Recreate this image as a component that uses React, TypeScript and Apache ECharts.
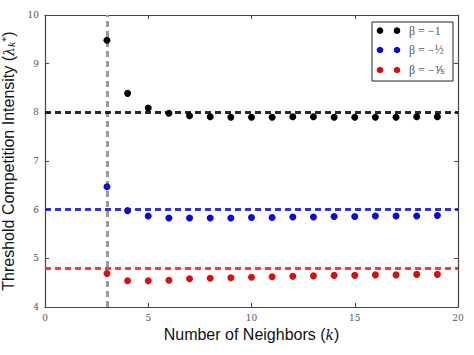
import React, { useEffect, useRef } from "react";
import * as echarts from "echarts";

const kValues = [3, 4, 5, 6, 7, 8, 9, 10, 11, 12, 13, 14, 15, 16, 17, 18, 19];
const blackValues = [9.48, 8.39, 8.09, 7.98, 7.93, 7.91, 7.9, 7.9, 7.9, 7.91, 7.91, 7.9, 7.9, 7.9, 7.9, 7.91, 7.91];
const blueValues = [6.47, 5.98, 5.87, 5.83, 5.83, 5.83, 5.83, 5.84, 5.84, 5.85, 5.85, 5.86, 5.86, 5.87, 5.87, 5.87, 5.88];
const redValues = [4.69, 4.54, 4.54, 4.55, 4.58, 4.59, 4.6, 4.61, 4.62, 4.63, 4.64, 4.65, 4.65, 4.66, 4.66, 4.67, 4.67];
const thresholds = [8, 6, 4.8];
const criticalK = 3;
const seriesNames = ["β = −1", "β = −½", "β = −⅕"];
const dotColors = ["#000000", "#0a0ad0", "#d41010"];
const lineColors = ["#111111", "#1c1ce0", "#e82a2a"];
const xTicks = [0, 5, 10, 15, 20];
const yTicks = [4, 5, 6, 7, 8, 9, 10];

export default function App() {
  const ref = useRef<HTMLDivElement>(null);
  useEffect(() => {
    if (!ref.current) return;
    const chart = echarts.init(ref.current, undefined, { renderer: "svg" });
    const valueSets = [blackValues, blueValues, redValues];
    const grid = { left: 45, right: 16, top: 15, bottom: 48, containLabel: false, outerBoundsMode: "none" };
    const tickLabel = { fontFamily: "DejaVu Serif", fontSize: 9, color: "#555" };
    const axisLine = { lineStyle: { color: "#444", width: 1.2 } };
    const series: any[] = valueSets.map((vals, i) => ({
      type: "scatter",
      name: seriesNames[i],
      data: kValues.map((k, j) => [k, vals[j]]),
      symbol: "circle",
      symbolSize: 7,
      itemStyle: { color: dotColors[i], opacity: 1 },
      z: 5,
      markLine: {
        silent: true,
        symbol: "none",
        label: { show: false },
        lineStyle: { color: lineColors[i], width: 3, type: [6, 4], opacity: 0.9 },
        data: [{ yAxis: thresholds[i] }],
        z: 3,
      },
    }));
    series.push({
      type: "scatter",
      data: [],
      markLine: {
        silent: true,
        symbol: "none",
        label: { show: false },
        lineStyle: { color: "#9a9a9a", width: 3, type: [6, 4] },
        data: [{ xAxis: criticalK }],
        z: 2,
      },
    });
    const legendX = 372;
    const legendY = 22;
    const legendRows = [30.7, 50, 70];
    const graphic: any[] = [
      {
        type: "rect",
        shape: { x: legendX, y: legendY, width: 81, height: 59 },
        style: { fill: "#fff", stroke: "#222", lineWidth: 1 },
        z: 100,
      },
    ];
    legendRows.forEach((y, i) => {
      graphic.push({ type: "circle", shape: { cx: 380, cy: y, r: 3.3 }, style: { fill: dotColors[i] }, z: 101 });
      graphic.push({ type: "circle", shape: { cx: 397, cy: y, r: 3.3 }, style: { fill: dotColors[i] }, z: 101 });
      graphic.push({
        type: "text",
        x: 409,
        y: y,
        style: {
          text: seriesNames[i],
          fontFamily: "Liberation Serif",
          fontSize: 12,
          fill: "#555",
          verticalAlign: "middle",
        },
        z: 101,
      });
    });
    const titleFont = { fontFamily: "Liberation Sans", fontSize: 16, color: "#111" };
    const mathFont = { fontFamily: "DejaVu Serif", fontStyle: "italic", fontSize: 14, color: "#111" };
    chart.setOption({
      animation: false,
      backgroundColor: "#fff",
      grid,
      graphic,
      xAxis: [
        {
          type: "value",
          min: 0,
          max: 20,
          interval: 5,
          axisLine: { ...axisLine, onZero: false },
          axisTick: { inside: true, length: 4, lineStyle: { color: "#444" } },
          axisLabel: { ...tickLabel, margin: 6, customValues: xTicks },
          splitLine: { show: false },
          name: "{t|Number of Neighbors (}{i|k}{t|)}",
          nameLocation: "middle",
          nameGap: 18,
          nameTextStyle: {
            ...titleFont,
            rich: { t: titleFont, i: mathFont },
          },
        },
        {
          type: "value",
          position: "top",
          min: 0,
          max: 20,
          interval: 5,
          axisLine: { ...axisLine, onZero: false },
          axisTick: { inside: true, length: 4, lineStyle: { color: "#444" } },
          axisLabel: { show: false },
          splitLine: { show: false },
        },
      ],
      yAxis: [
        {
          type: "value",
          min: 4,
          max: 10,
          interval: 1,
          axisLine: { show: true, ...axisLine, onZero: false },
          axisTick: { show: true, inside: true, length: 4, lineStyle: { color: "#444" } },
          axisLabel: { ...tickLabel, margin: 6, customValues: yTicks },
          splitLine: { show: false },
          name: "{t|Threshold Competition Intensity (}{i|λ}{s|k}{p|*}{t|)}",
          nameLocation: "middle",
          nameGap: 8,
          nameTextStyle: {
            ...titleFont,
            verticalAlign: "bottom",
            rich: {
              t: titleFont,
              i: mathFont,
              s: { fontFamily: "DejaVu Serif", fontStyle: "italic", fontSize: 9, color: "#111", padding: [6, 0, 0, 0] },
              p: { fontFamily: "DejaVu Serif", fontSize: 10, color: "#111", padding: [0, 0, 6, 0] },
            },
          },
        },
        {
          type: "value",
          position: "right",
          min: 4,
          max: 10,
          interval: 1,
          axisLine: { show: true, ...axisLine, onZero: false },
          axisTick: { show: true, inside: true, length: 4, lineStyle: { color: "#444" } },
          axisLabel: { show: false },
          splitLine: { show: false },
        },
      ],
      series,
    });
    return () => chart.dispose();
  }, []);
  return <div ref={ref} style={{ position: "absolute", left: 0, top: 0, width: 474, height: 355 }} />;
}
